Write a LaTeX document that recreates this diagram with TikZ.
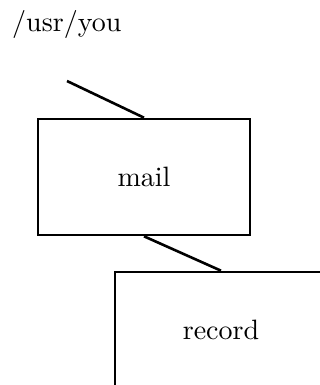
\documentclass[tikz,border=0pt]{standalone}
\usepackage{fontspec}
\setmainfont{lmroman10-regular}[Extension=.otf]
\begin{document}
\begin{tikzpicture}[x=1pt,y=-1pt,
  lbl/.style={font=\fontsize{28}{34}\selectfont},
  filebox/.style={draw,line width=2.6pt,rectangle,minimum width=212pt,minimum height=116pt,inner sep=0pt,lbl},
  link/.style={line width=2.6pt}]
  \useasboundingbox (0,0) rectangle (320,385);
  \clip (0,0) rectangle (320,385);
  \node[lbl,anchor=base west,inner sep=0pt] (dir) at (12,32) {/usr/you};
  \node[filebox] (mail) at (144,177) {mail};
  \node[filebox] (record) at (221,330) {record};
  \coordinate (up) at (67,81);
  \draw[link] (up) -- (mail.north);
  \draw[link] (mail.south) -- (record.north);
\end{tikzpicture}
\end{document}
